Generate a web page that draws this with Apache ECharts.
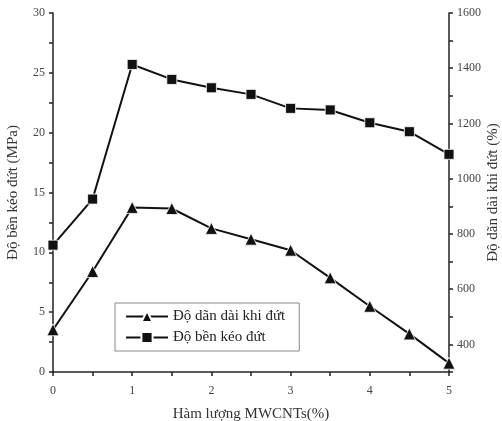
<!DOCTYPE html>
<html>
<head>
<meta charset="utf-8">
<script src="https://cdn.jsdelivr.net/npm/echarts@6/dist/echarts.min.js"></script>
<style>
html,body{margin:0;padding:0;background:#fff;}
#chart{width:502px;height:421px;}
</style>
</head>
<body>
<div id="chart"></div>
<script>
// MWCNT content (%)
const mwcntContent = [0, 0.5, 1, 1.5, 2, 2.5, 3, 3.5, 4, 4.5, 5];
// Elongation at break (%), right axis
const elongation = [453, 664, 896, 892, 820, 781, 741, 641, 538, 438, 332];
// Tensile strength (MPa), left axis
const tensileStrength = [10.6, 14.45, 25.7, 24.45, 23.75, 23.2, 22.03, 21.9, 20.83, 20.08, 18.19];

const seriesNames = ['Độ dãn dài khi đứt', 'Độ bền kéo đứt'];

const serif = 'Liberation Serif';
const textGray = '#444';

const chart = echarts.init(document.getElementById('chart'));
chart.setOption({
  animation: false,
  backgroundColor: '#fff',
  grid: { left: 53, right: 53, top: 13, bottom: 49, containLabel: false, outerBoundsMode: 'none' },
  legend: {
    left: 115, top: 303, width: 185,
    orient: 'vertical',
    itemWidth: 42, itemHeight: 14, itemGap: 6,
    padding: [6, 14, 6, 10],
    borderColor: '#888', borderWidth: 1,
    textStyle: { fontFamily: serif, fontSize: 15, color: '#222' },
    data: seriesNames
  },
  xAxis: {
    type: 'value', min: 0, max: 5, interval: 0.5,
    name: 'Hàm lượng MWCNTs(%)', nameLocation: 'middle', nameGap: 35, nameMoveOverlap: false,
    nameTextStyle: { fontFamily: serif, fontSize: 15, color: '#333' },
    axisLine: { onZero: false, lineStyle: { color: '#222', width: 1.5 } },
    axisTick: { inside: false, length: 4, lineStyle: { color: '#222', width: 1.5 } },
    axisLabel: {
      fontFamily: serif, fontSize: 12, color: textGray, margin: 13,
      formatter: v => (Math.abs(v - Math.round(v)) < 1e-6 ? String(Math.round(v)) : '')
    },
    splitLine: { show: false }
  },
  yAxis: [
    {
      type: 'value', position: 'left', min: 0, max: 30, interval: 2.5,
      name: 'Độ bền kéo đứt (MPa)', nameLocation: 'middle', nameGap: 32, nameRotate: 90,
      nameMoveOverlap: false,
      nameTextStyle: { fontFamily: serif, fontSize: 15, color: '#333' },
      axisLine: { show: true, lineStyle: { color: '#222', width: 1.5 } },
      axisTick: { show: true, length: 4, lineStyle: { color: '#222', width: 1.5 } },
      axisLabel: {
        fontFamily: serif, fontSize: 12, color: textGray, margin: 8,
        formatter: v => (v % 5 === 0 ? String(v) : '')
      },
      splitLine: { show: false }
    },
    {
      type: 'value', position: 'right', min: 300, max: 1600, interval: 100,
      name: 'Độ dãn dài khi đứt (%)', nameLocation: 'middle', nameGap: 37, nameRotate: 90,
      nameMoveOverlap: false,
      nameTextStyle: { fontFamily: serif, fontSize: 15, color: '#333' },
      axisLine: { show: true, lineStyle: { color: '#222', width: 1.5 } },
      axisTick: { show: true, length: 4, lineStyle: { color: '#222', width: 1.5 } },
      axisLabel: {
        fontFamily: serif, fontSize: 12, color: textGray, margin: 8,
        formatter: v => (v % 200 === 0 && v >= 400 ? String(v) : '')
      },
      splitLine: { show: false }
    }
  ],
  series: [
    {
      name: seriesNames[0], type: 'line', yAxisIndex: 1,
      data: mwcntContent.map((x, i) => [x, elongation[i]]),
      symbol: 'triangle', symbolSize: 12,
      lineStyle: { color: '#111', width: 2 },
      itemStyle: { color: '#111', borderColor: '#fff', borderWidth: 0.8 }
    },
    {
      name: seriesNames[1], type: 'line', yAxisIndex: 0,
      data: mwcntContent.map((x, i) => [x, tensileStrength[i]]),
      symbol: 'rect', symbolSize: 10,
      lineStyle: { color: '#111', width: 2 },
      itemStyle: { color: '#111', borderColor: '#fff', borderWidth: 0.8 }
    }
  ]
});
</script>
</body>
</html>
